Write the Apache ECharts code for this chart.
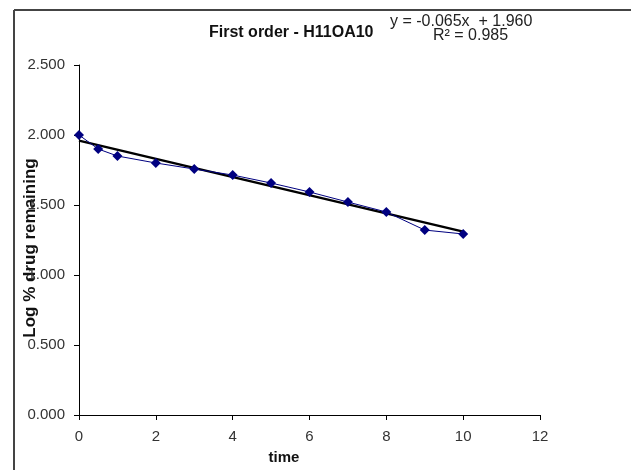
<!DOCTYPE html>
<html>
<head>
<meta charset="utf-8">
<script src="https://cdn.jsdelivr.net/npm/echarts@6/dist/echarts.min.js"></script>
<style>
html,body{margin:0;padding:0;background:#fff;}
#chart{width:631px;height:470px;}
</style>
</head>
<body>
<div id="chart"></div>
<script>
// measured points: time vs log % drug remaining
var time = [0, 0.5, 1, 2, 3, 4, 5, 6, 7, 8, 9, 10];
var logRemaining = [2.000, 1.900, 1.850, 1.800, 1.757, 1.714, 1.657, 1.593, 1.521, 1.450, 1.321, 1.293];
// linear trendline y = -0.065x + 1.960, drawn from x=0 to x=10
var trendX = [0, 10];
var trendY = [1.960, 1.310];

var titleText = "First order - H11OA10";
var eqText = "y = -0.065x  + 1.960";
var r2Text = "R\u00b2 = 0.985";
var xName = "time";
var yName = "Log % drug remaining";

var pts = [];
for (var i = 0; i < time.length; i++) {
    pts.push([time[i], logRemaining[i]]);
}
var trend = [];
for (var j = 0; j < trendX.length; j++) {
    trend.push([trendX[j], trendY[j]]);
}

var myChart = echarts.init(document.getElementById('chart'));
var font = '"Liberation Sans", Arial, sans-serif';

var option = {
    backgroundColor: "#fff",
    animation: false,
    title: {
        text: titleText,
        left: 204,
        top: 20,
        textStyle: {
            fontFamily: font,
            fontSize: 16,
            fontWeight: "bold",
            color: "#111"
        }
    },
    grid: {
        left: 79,
        right: 91,
        top: 65,
        bottom: 55
    },
    xAxis: {
        type: "value",
        min: 0,
        max: 12,
        interval: 2,
        axisLine: { lineStyle: { color: "#000", width: 1 } },
        axisTick: { show: true, inside: false, length: 5, lineStyle: { color: "#000" } },
        splitLine: { show: false },
        axisLabel: {
            margin: 14,
            fontFamily: font,
            fontSize: 15,
            color: "#333"
        }
    },
    yAxis: {
        type: "value",
        min: 0,
        max: 2.5,
        interval: 0.5,
        axisLine: { show: true, lineStyle: { color: "#000", width: 1 } },
        axisTick: { show: true, inside: false, length: 5, lineStyle: { color: "#000" } },
        splitLine: { show: false },
        axisLabel: {
            margin: 14,
            fontFamily: font,
            fontSize: 15,
            color: "#333",
            formatter: function (v) { return v.toFixed(3); }
        }
    },
    series: [{
        name: "data",
        type: "line",
        data: pts,
        symbol: "diamond",
        symbolSize: 10,
        lineStyle: { color: "#000080", width: 1 },
        itemStyle: { color: "#000080" },
        z: 3
    }, {
        name: "trend",
        type: "line",
        data: trend,
        symbol: "none",
        lineStyle: { color: "#000", width: 2.5 },
        z: 2
    }],
    graphic: [{
        type: "line",
        shape: { x1: 14, y1: 10, x2: 14, y2: 470 },
        style: { stroke: "#444", lineWidth: 2 }
    }, {
        type: "line",
        shape: { x1: 14, y1: 10, x2: 631, y2: 10 },
        style: { stroke: "#444", lineWidth: 2 }
    }, {
        type: "text",
        x: 390,
        y: 22,
        style: { text: eqText, font: "16px " + font, fill: "#222", verticalAlign: "middle" }
    }, {
        type: "text",
        x: 433,
        y: 36,
        style: { text: r2Text, font: "16px " + font, fill: "#222", verticalAlign: "middle" }
    }, {
        type: "text",
        x: 284,
        y: 458,
        style: { text: xName, font: "bold 15px " + font, fill: "#111", align: "center", verticalAlign: "middle" }
    }, {
        type: "text",
        x: 30,
        y: 248,
        rotation: Math.PI / 2,
        style: { text: yName, font: "bold 17px " + font, fill: "#111", align: "center", verticalAlign: "middle" }
    }]
};

myChart.setOption(option);
</script>
</body>
</html>
